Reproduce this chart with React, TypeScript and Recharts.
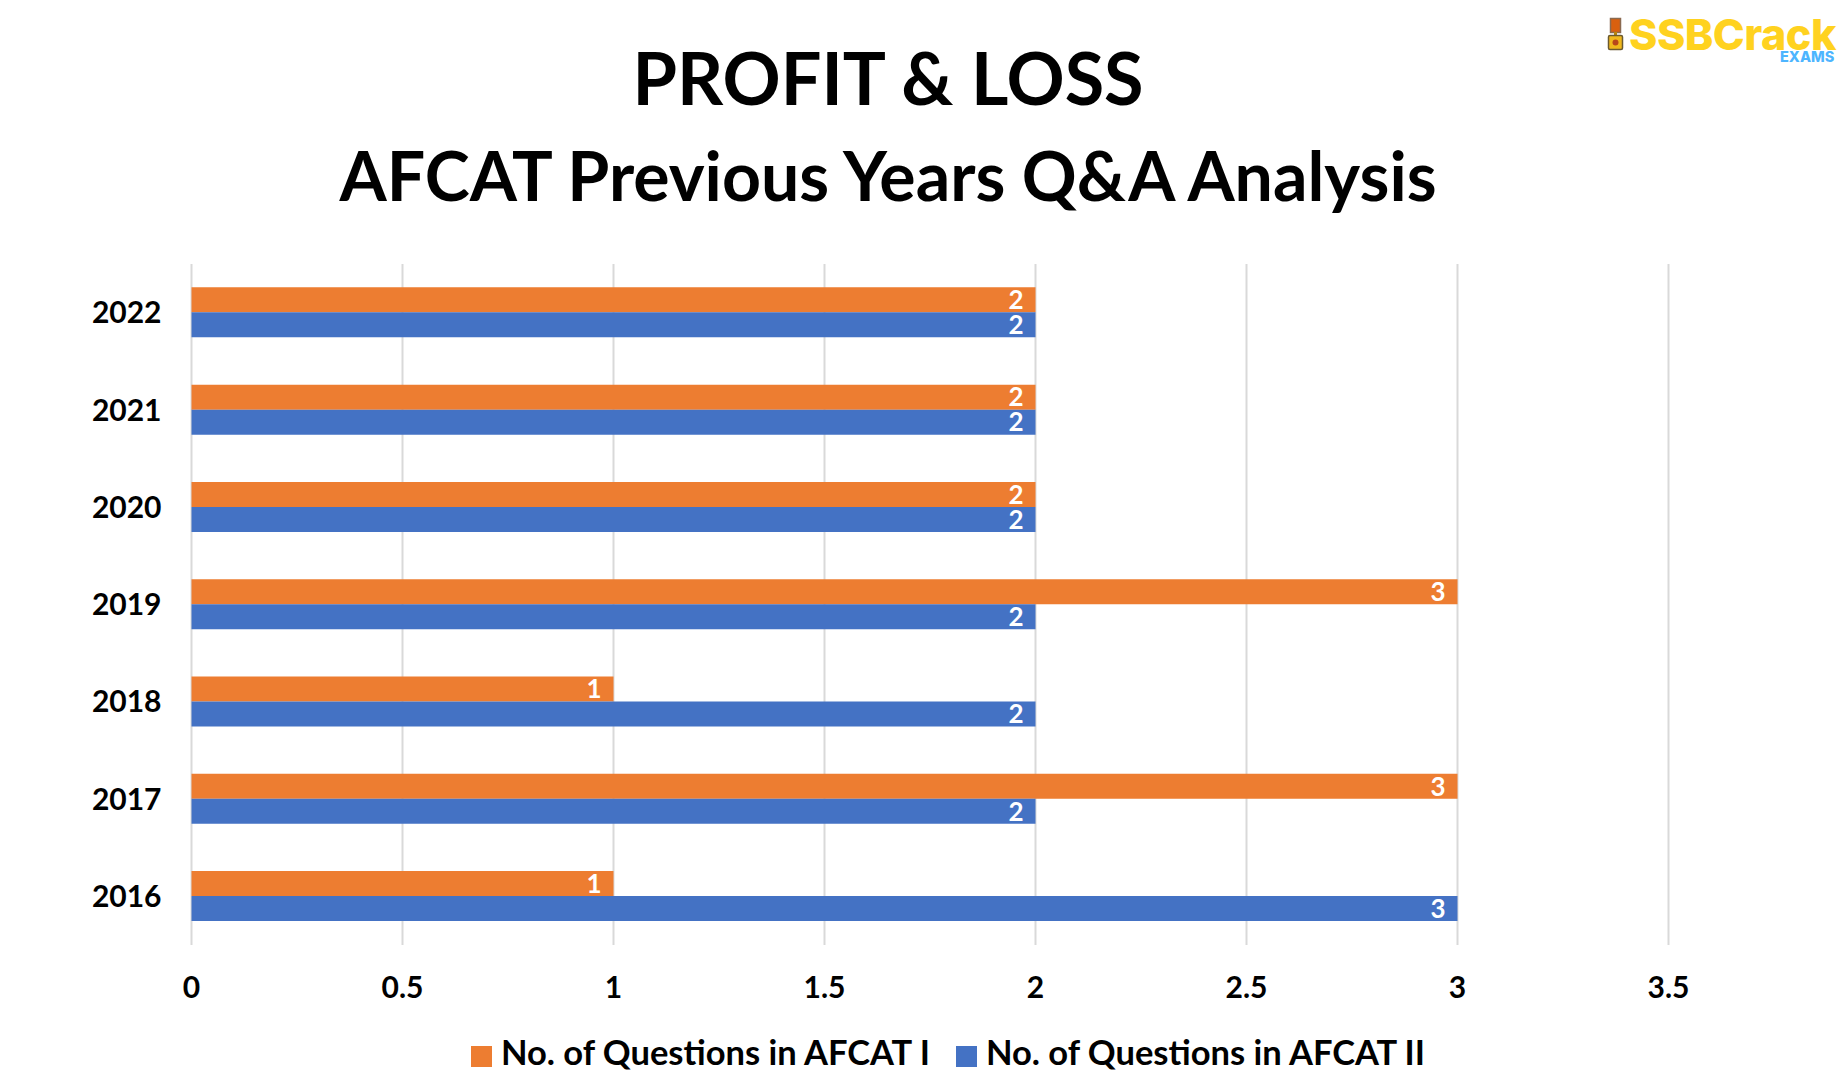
import React from "react";
import { BarChart, Bar, XAxis, YAxis, CartesianGrid, Legend, LabelList } from "recharts";

const years = ["2022", "2021", "2020", "2019", "2018", "2017", "2016"];
const afcat1 = [2, 2, 2, 3, 1, 3, 1];
const afcat2 = [2, 2, 2, 2, 2, 2, 3];
const xTicks = [0, 0.5, 1, 1.5, 2, 2.5, 3, 3.5];
const seriesNames = ["No. of Questions in AFCAT I", "No. of Questions in AFCAT II"];
const titleText = "PROFIT & LOSS";
const subtitleText = "AFCAT Previous Years Q&A Analysis";

const rows = years.map((year, i) => ({ year, a: afcat1[i], b: afcat2[i] }));
const FONT = "Lato, 'Open Sans', sans-serif";

const Logo = () => (
  <div style={{ position: "absolute", left: 0, top: 0 }}>
    <svg width={1837} height={70} style={{ position: "absolute", left: 0, top: 0 }}>
      <rect x={1610.5} y={18.5} width={10} height={14} fill="#d9600f" stroke="#8a6a50" strokeWidth={1.5} />
      <rect x={1614} y={32} width={3} height={3} fill="#b8860b" />
      <rect x={1608.5} y={35.5} width={14} height={14} rx={1.5} fill="#f0b81c" stroke="#6b5a30" strokeWidth={1.5} />
      <circle cx={1615.5} cy={42.5} r={3} fill="#b8461a" />
    </svg>
    <div style={{ position: "absolute", left: 1629, top: 9, fontFamily: "Inter, sans-serif", fontWeight: 800, fontSize: 43, lineHeight: "50px", letterSpacing: -0.5, color: "#ffd21f", whiteSpace: "nowrap" }}>SSBCrack</div>
    <div style={{ position: "absolute", left: 1780, top: 49, fontFamily: "Inter, sans-serif", fontWeight: 800, fontSize: 14.5, lineHeight: "16px", color: "#4db5ff", whiteSpace: "nowrap" }}>EXAMS</div>
  </div>
);

export default function App() {
  return (
    <div style={{ position: "absolute", left: 0, top: 0, width: 1837, height: 1077, background: "#fff", overflow: "hidden" }}>
      <BarChart
        width={1837}
        height={1077}
        data={rows}
        layout="vertical"
        margin={{ top: 264, right: 168.5, bottom: 26, left: 71.5 }}
        barCategoryGap="24%"
        barGap={0}
      >
        <CartesianGrid horizontal={false} stroke="#d9d9d9" strokeWidth={2} />
        <XAxis
          type="number"
          domain={[0, 3.5]}
          ticks={xTicks}
          axisLine={false}
          tickLine={false}
          height={60}
          tickMargin={26}
          tick={{ fontFamily: FONT, fontWeight: 700, fontSize: 30, fill: "#000" }}
        />
        <YAxis
          type="category"
          dataKey="year"
          width={120}
          axisLine={false}
          tickLine={false}
          tickMargin={24}
          tick={{ fontFamily: FONT, fontWeight: 700, fontSize: 30, fill: "#000" }}
        />
        <Legend
          layout="horizontal"
          align="center"
          verticalAlign="bottom"
          iconType="square"
          iconSize={21}
          wrapperStyle={{ left: 355, width: 1212, bottom: 0, top: 1031, height: 46, fontFamily: FONT, fontWeight: 700, fontSize: 34.5 }}
          formatter={(value: string) => <span style={{ color: "#000", marginLeft: 5, marginRight: 16 }}>{value}</span>}
        />
        <Bar dataKey="a" name={seriesNames[0]} fill="#ed7d31" isAnimationActive={false}>
          <LabelList dataKey="a" position="insideRight" offset={12} fill="#fff" fontFamily={FONT} fontWeight={700} fontSize={26} />
        </Bar>
        <Bar dataKey="b" name={seriesNames[1]} fill="#4472c4" isAnimationActive={false}>
          <LabelList dataKey="b" position="insideRight" offset={12} fill="#fff" fontFamily={FONT} fontWeight={700} fontSize={26} />
        </Bar>
      </BarChart>
      <div style={{ position: "absolute", left: 0, width: 1776, top: 30, textAlign: "center", fontFamily: FONT, fontWeight: 700, fontSize: 72, lineHeight: "94px", color: "#000" }}>{titleText}</div>
      <div style={{ position: "absolute", left: 0, width: 1776, top: 133, textAlign: "center", fontFamily: FONT, fontWeight: 700, fontSize: 68, lineHeight: "84px", color: "#000" }}>{subtitleText}</div>
      <Logo />
    </div>
  );
}
